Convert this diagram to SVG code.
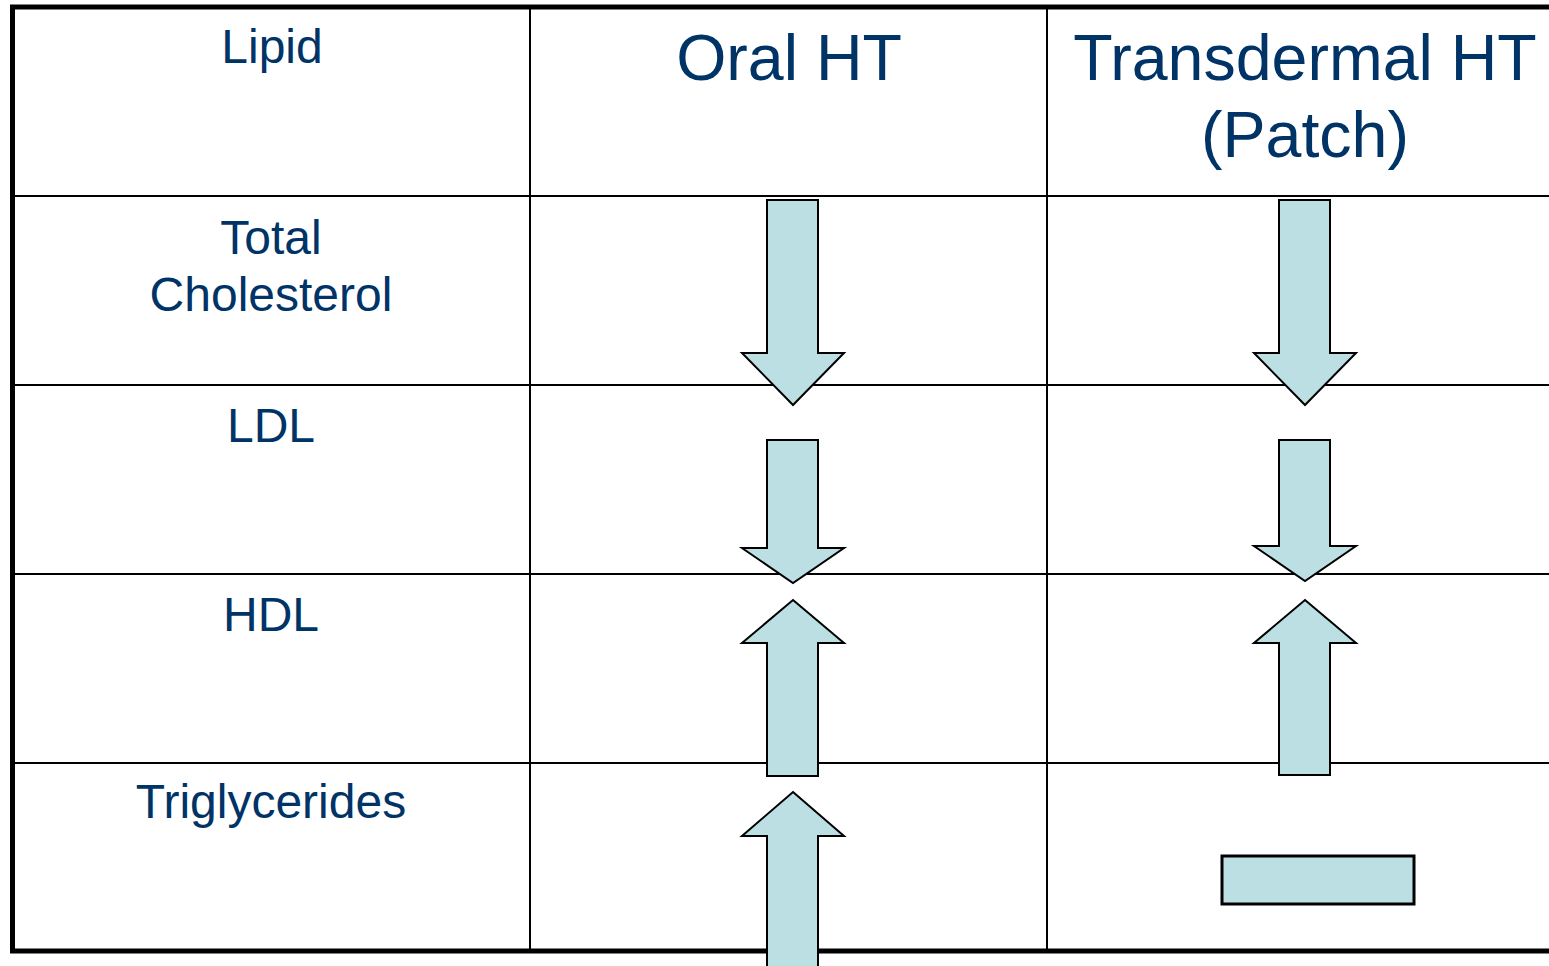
<svg xmlns="http://www.w3.org/2000/svg" width="1549" height="966" viewBox="0 0 1549 966">
  <style>
    .bg { fill: #ffffff; }
    .grid { stroke: #000000; stroke-width: 2; fill: none; }
    .frame { stroke: #000000; stroke-width: 5; fill: none; }
    .lbl { font-family: "Liberation Sans", Arial, sans-serif; fill: #003366; text-anchor: middle; }
    .row { font-size: 48px; }
    .head { font-size: 64.5px; }
    .arrow { fill: #BBDFE2; stroke: #000000; stroke-width: 2; stroke-linejoin: miter; }
    .bar { fill: #BBDFE2; stroke: #000000; stroke-width: 3; }
  </style>
  <rect class="bg" x="0" y="0" width="1549" height="966"/>

  <!-- table grid -->
  <g id="table">
    <line class="grid" x1="530" y1="7" x2="530" y2="951"/>
    <line class="grid" x1="1047" y1="7" x2="1047" y2="951"/>
    <line class="grid" x1="12" y1="196" x2="1549" y2="196"/>
    <line class="grid" x1="12" y1="385" x2="1549" y2="385"/>
    <line class="grid" x1="12" y1="574" x2="1549" y2="574"/>
    <line class="grid" x1="12" y1="763" x2="1549" y2="763"/>
    <path class="frame" d="M1552 7 H12.5 V951 H1552"/>
  </g>

  <!-- header cells -->
  <g id="hdr-lipid"><text class="lbl row" x="272" y="63">Lipid</text></g>
  <g id="hdr-oral"><text class="lbl head" x="789" y="80">Oral HT</text></g>
  <g id="hdr-patch">
    <text class="lbl head" x="1305" y="80">Transdermal HT</text>
    <text class="lbl head" x="1305" y="157">(Patch)</text>
  </g>

  <!-- row labels -->
  <g id="row-tc">
    <text class="lbl row" x="271" y="254">Total</text>
    <text class="lbl row" x="271" y="311">Cholesterol</text>
  </g>
  <g id="row-ldl"><text class="lbl row" x="271" y="442">LDL</text></g>
  <g id="row-hdl"><text class="lbl row" x="271" y="631">HDL</text></g>
  <g id="row-tg"><text class="lbl row" x="271" y="818">Triglycerides</text></g>

  <!-- effect markers: oral column -->
  <g id="oral-tc"><polygon class="arrow" points="767,200 818,200 818,353 844,353 793,405 742,353 767,353"/></g>
  <g id="oral-ldl"><polygon class="arrow" points="767,440 818,440 818,548 844,548 793,583 742,548 767,548"/></g>
  <g id="oral-hdl"><polygon class="arrow" points="793,600 844,643 818,643 818,776 767,776 767,643 742,643"/></g>
  <g id="oral-tg"><polygon class="arrow" points="793,792 844,836 818,836 818,975 767,975 767,836 742,836"/></g>

  <!-- effect markers: patch column -->
  <g id="patch-tc"><polygon class="arrow" points="1279,200 1330,200 1330,353 1356,353 1305,405 1254,353 1279,353"/></g>
  <g id="patch-ldl"><polygon class="arrow" points="1279,440 1330,440 1330,546 1356,546 1305,581 1254,546 1279,546"/></g>
  <g id="patch-hdl"><polygon class="arrow" points="1305,600 1356,643 1330,643 1330,775 1279,775 1279,643 1254,643"/></g>
  <g id="patch-tg"><rect class="bar" x="1222" y="856" width="192" height="48"/></g>
</svg>
